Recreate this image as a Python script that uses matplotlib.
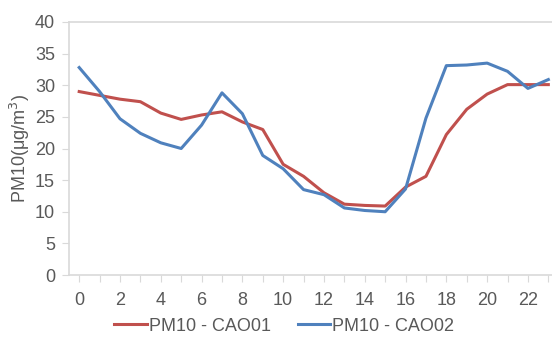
import numpy as np
import matplotlib
matplotlib.use('Agg')
from matplotlib import pyplot as plt

# hourly PM10 averages
hours = list(range(24))
cao01 = [29.0, 28.4, 27.8, 27.4, 25.6, 24.6, 25.3, 25.8, 24.2, 23.0, 17.5, 15.6,
         13.0, 11.2, 11.0, 10.9, 13.9, 15.6, 22.2, 26.2, 28.6, 30.1, 30.1, 30.1]
cao02 = [32.8, 29.0, 24.7, 22.4, 20.9, 20.0, 23.7, 28.8, 25.5, 18.9, 16.8, 13.5,
         12.7, 10.6, 10.2, 10.0, 13.6, 24.8, 33.1, 33.2, 33.5, 32.2, 29.5, 30.9]
names = ['PM10 - CAO01', 'PM10 - CAO02']
yticks = [0, 5, 10, 15, 20, 25, 30, 35, 40]

plt.rcParams['font.family'] = ['Liberation Sans', 'DejaVu Sans']
grey = '#595959'
axis_grey = '#D9D9D9'

fig = plt.figure(figsize=(5.52, 3.38), dpi=100)
ax = fig.add_axes([69 / 552, 1 - 275 / 338, 1 - 69 / 552, (275 - 22) / 338])

ax.plot(hours, cao01, color='#C0504D', lw=2.2, label=names[0])
ax.plot(hours, cao02, color='#4F81BD', lw=2.2, label=names[1])

ax.set_xlim(-0.5, 23.18)
ax.set_ylim(0, 40)
ax.set_yticks(yticks)
ax.set_xticks(hours)
ax.set_xticklabels([str(h) if h % 2 == 0 else '' for h in hours])

for side in ['left', 'bottom', 'top']:
    ax.spines[side].set_color(axis_grey)
    ax.spines[side].set_linewidth(1.2)
ax.spines['right'].set_visible(False)

ax.tick_params(axis='y', length=5, color=axis_grey, labelcolor=grey, labelsize=13, pad=5)
ax.tick_params(axis='x', length=5, color=axis_grey, labelcolor=grey, labelsize=13, pad=7)

ax.set_ylabel('PM10(μg/m$^3$)', color=grey, fontsize=13, labelpad=2)

leg = fig.legend(loc='center', bbox_to_anchor=(0.515, 0.035), ncol=2, frameon=False,
                 fontsize=13, handlelength=1.8, handletextpad=0.12, columnspacing=1.5,
                 borderpad=0.2)
for t in leg.get_texts():
    t.set_color(grey)

fig.savefig('out.png', dpi=100)
